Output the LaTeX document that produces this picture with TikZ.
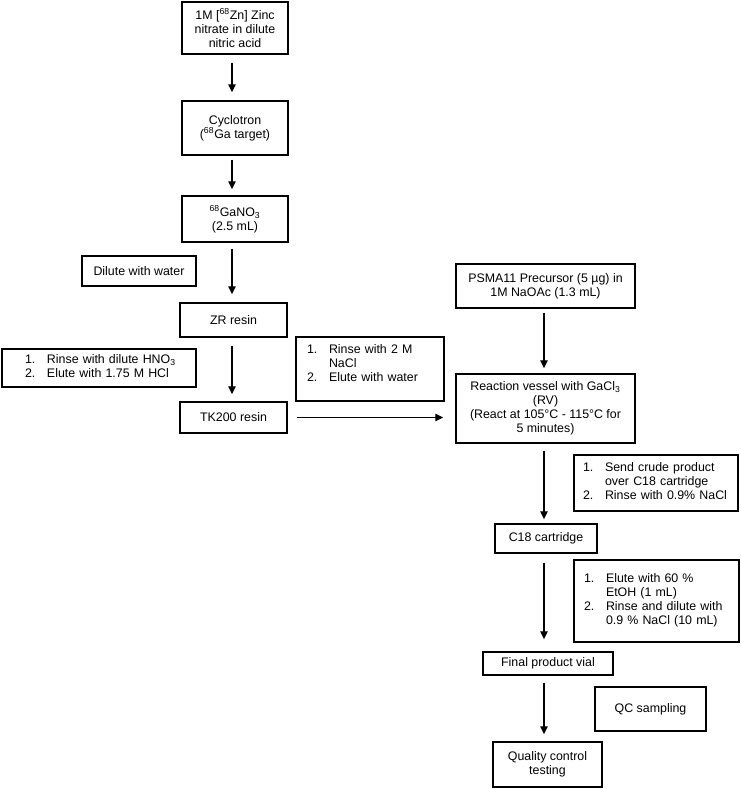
\documentclass[tikz,border=0pt]{standalone}
\usepackage{fontspec}
\setmainfont{Liberation Sans}
\usetikzlibrary{arrows.meta}
\tikzset{
  bx/.style={draw, line width=1.05pt, inner sep=0pt, align=center},
  lst/.style={inner sep=0pt, align=left},
  arr/.style={line width=1pt, -{Triangle[length=6pt,width=5.5pt]}},
}
\newcommand{\itm}[1]{\begin{tabular}{@{}p{16.5pt}@{}l@{}}#1\end{tabular}}
\begin{document}
\begin{tikzpicture}[x=0.75pt,y=-0.75pt,font=\fontsize{9.3}{10.4}\selectfont]
\useasboundingbox (0,0) rectangle (740,789);
% left column
\node[bx, minimum width=79.5pt, minimum height=39pt] (b1) at (235,28) {1M [\textsuperscript{68}Zn] Zinc\\nitrate in dilute\\nitric acid};
\node[bx, minimum width=79.5pt, minimum height=40.5pt] (b2) at (235,128) {Cyclotron\\(\textsuperscript{68}Ga target)};
\node[bx, minimum width=79.5pt, minimum height=34.5pt] (b3) at (235,219) {\textsuperscript{68}GaNO\textsubscript{3}\\(2.5 mL)};
\node[bx, minimum width=85.5pt, minimum height=22.5pt] (dil) at (139,271) {Dilute with water};
\node[bx, minimum width=80.25pt, minimum height=25.5pt] (zr) at (233.5,320) {ZR resin};
\node[bx, text width=145.5pt, align=left, minimum height=28.5pt] (rin1) at (99,368) {\hspace*{17.25pt}\itm{1. & Rinse with dilute HNO\textsubscript{3}\\ 2. & Elute with 1.75 M HCl}};
\node[bx, minimum width=80.25pt, minimum height=23.25pt] (tk) at (233.5,417.5) {TK200 resin};
\node[bx, minimum width=111pt, minimum height=48pt] (rin2) at (370,369) {};
\node[lst, text width=111pt] (rin2t) at (370,365) {\hspace*{8.25pt}\itm{1. & Rinse with 2 M\\ & NaCl\\ 2. & Elute with water}};
% right column
\node[bx, minimum width=134.25pt, minimum height=33pt] (psma) at (545.5,286) {PSMA11 Precursor (5 µg) in\\1M NaOAc (1.3 mL)};
\node[bx, minimum width=134.25pt, minimum height=51.75pt] (rv) at (545.5,408.5) {Reaction vessel with GaCl\textsubscript{3}\\(RV)\\(React at 105°C - 115°C for\\5 minutes)};
\node[bx, text width=123pt, align=left, minimum height=42pt] (send) at (656,483) {\hspace*{6.75pt}\itm{1. & Send crude product\\ & over C18 cartridge\\ 2. & Rinse with 0.9\% NaCl}};
\node[bx, minimum width=76.5pt, minimum height=21.75pt] (c18) at (546,538.5) {C18 cartridge};
\node[bx, text width=123.75pt, align=left, minimum height=61.5pt] (elute) at (656.5,601) {\hspace*{7.5pt}\itm{1. & Elute with 60 \%\\ & EtOH (1 mL)\\ 2. & Rinse and dilute with\\ & 0.9 \% NaCl (10 mL)}};
\node[bx, minimum width=97.5pt, minimum height=17.25pt] (fpv) at (548,663.5) {Final product vial};
\node[bx, minimum width=83.25pt, minimum height=33pt] (qc) at (650.5,709) {QC sampling};
\node[bx, minimum width=81.75pt, minimum height=33.75pt] (qct) at (547.5,764.5) {Quality control\\testing};
% columns
\coordinate (ca) at (232,0);
\coordinate (cb) at (544,0);
% connectors
\draw[arr, shorten <=6pt, shorten >=6pt] (b1.south -| ca) -- (b2.north -| ca);
\draw[arr, shorten <=3pt, shorten >=4.5pt] (b2.south -| ca) -- (b3.north -| ca);
\draw[arr, shorten <=4.5pt, shorten >=6pt] (b3.south -| ca) -- (zr.north -| ca);
\draw[arr, shorten <=6pt, shorten >=5.25pt] (zr.south -| ca) -- (tk.north -| ca);
\draw[arr, shorten <=6.75pt, shorten >=9pt] (tk.east) -- (tk.east -| rv.west);
\draw[arr, shorten <=3pt, shorten >=3.75pt] (psma.south -| cb) -- (rv.north -| cb);
\draw[arr, shorten <=5.25pt, shorten >=3pt] (rv.south -| cb) -- (c18.north -| cb);
\draw[arr, shorten <=6.75pt, shorten >=9pt] (c18.south -| cb) -- (fpv.north -| cb);
\draw[arr, shorten <=5.25pt, shorten >=5.25pt] (fpv.south -| cb) -- (qct.north -| cb);
\end{tikzpicture}
\end{document}
